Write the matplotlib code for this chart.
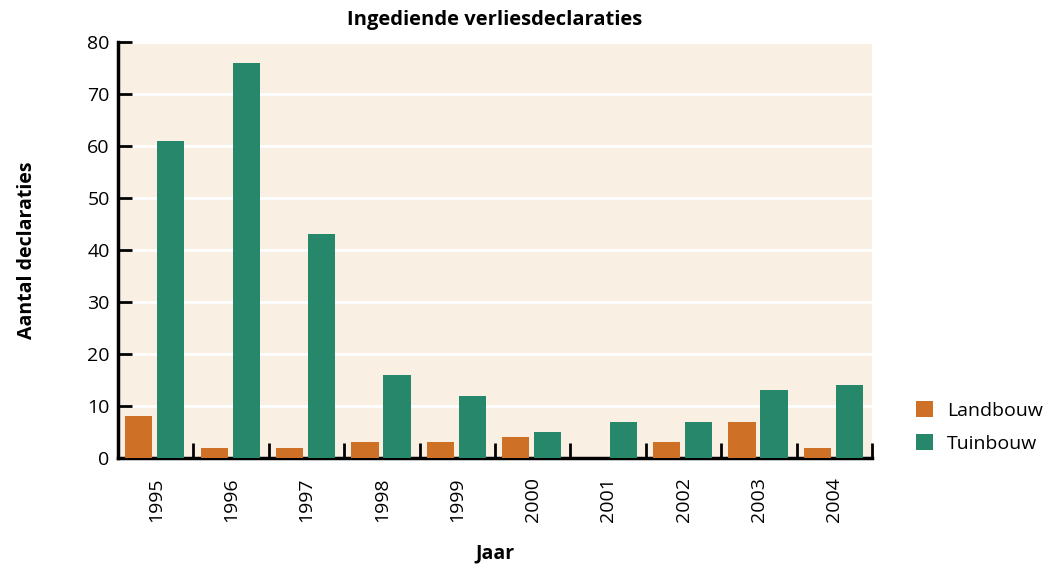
import matplotlib.pyplot as plt
import numpy as np

jaren = ['1995', '1996', '1997', '1998', '1999', '2000', '2001', '2002', '2003', '2004']
landbouw = [8, 2, 2, 3, 3, 4, 0, 3, 7, 2]
tuinbouw = [61, 76, 43, 16, 12, 5, 7, 7, 13, 14]

plt.rcParams['font.family'] = ['Open Sans', 'DejaVu Sans']

fig = plt.figure(figsize=(10.53, 5.66), dpi=100)
ax = fig.add_axes([0.1121, 0.1908, 0.716, 0.735])

x = np.arange(len(jaren))
ax.bar(x - 0.225, landbouw, width=0.36, color='#CF7027', label='Landbouw', zorder=3)
ax.bar(x + 0.2, tuinbouw, width=0.36, color='#27876A', label='Tuinbouw', zorder=3)

ax.set_facecolor('#FAEFE3')
ax.set_xlim(-0.5, len(jaren) - 0.5)
ax.set_ylim(0, 80)
ax.set_yticks(range(0, 81, 10))
ax.yaxis.grid(True, color='white', linewidth=2, zorder=1)
ax.set_axisbelow(True)

ax.set_xticks(x)
ax.set_xticklabels(jaren, rotation=90, fontsize=14)
ax.set_xticks(np.arange(-0.5, len(jaren)), minor=True)
ax.tick_params(axis='x', which='major', length=0, pad=14)
ax.tick_params(axis='x', which='minor', direction='in', length=11, width=2)
ax.tick_params(axis='y', direction='in', length=10, width=2, labelsize=14, pad=6)

for s in ['top', 'right']:
    ax.spines[s].set_visible(False)
for s in ['left', 'bottom']:
    ax.spines[s].set_linewidth(2.5)

ax.set_title('Ingediende verliesdeclaraties', fontsize=14.5, fontweight='bold', pad=12)
ax.set_ylabel('Aantal declaraties', fontsize=14, fontweight='bold', labelpad=36)
fig.text(0.4701, 1 - 553 / 566, 'Jaar', fontsize=14, fontweight='bold',
         ha='center', va='center')

ax.legend(loc='lower left', bbox_to_anchor=(1.035, -0.03), frameon=False,
          fontsize=14, handlelength=0.9, handleheight=0.9, labelspacing=0.75,
          handletextpad=0.7)

plt.savefig('out.png', dpi=100)
